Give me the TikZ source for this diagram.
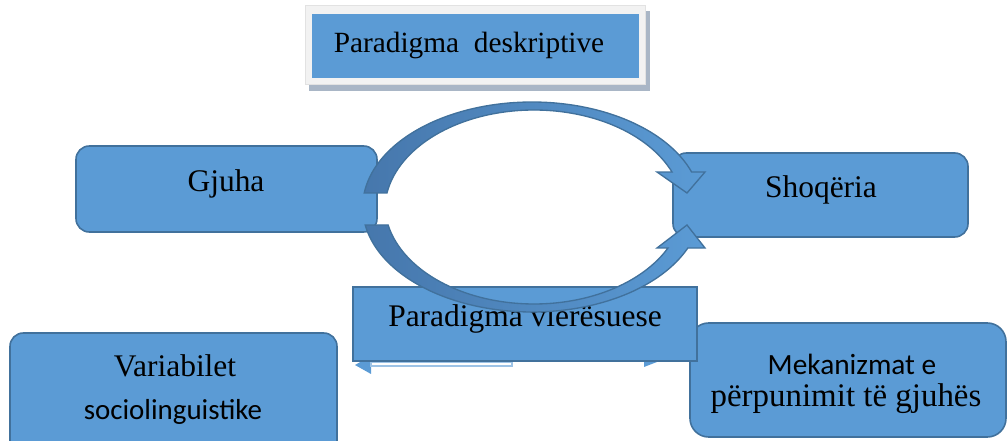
\documentclass[tikz,border=0pt]{standalone}
\usepackage{fontspec}
\setmainfont{Liberation Serif}
\newfontfamily\calibrifont{Carlito}
\definecolor{boxblue}{HTML}{5B9BD5}
\definecolor{boxline}{HTML}{41719C}
\definecolor{arcdark}{HTML}{4677AC}
\definecolor{framegray}{HTML}{F2F2F2}
\definecolor{frameline}{HTML}{E2E2E2}
\definecolor{shadowgray}{HTML}{A9B6C6}
\definecolor{thinblue}{HTML}{9DC3E6}
\tikzset{
  rbox/.style={draw=boxline, fill=boxblue, line width=1.2pt, rounded corners=10pt, inner sep=0pt},
  sbox/.style={draw=boxline, fill=boxblue, line width=1.6pt, inner sep=0pt},
  serifbig/.style={font=\fontsize{23.6}{28}\selectfont, anchor=base, inner sep=0pt},
  sansbig/.style={font=\calibrifont\fontsize{22}{26}\selectfont, anchor=base, inner sep=0pt},
  arcshape/.style={draw=boxline, line width=1pt, left color=arcdark, middle color=boxblue!85!arcdark, right color=boxblue}
}
\begin{document}
\begin{tikzpicture}[x=0.75pt,y=-0.75pt]
\clip (0,0) rectangle (1008,441);
\useasboundingbox (0,0) rectangle (1008,441);

% lower boxes
\node[rbox, minimum width=245.25pt, minimum height=102.75pt] (var) at (173.5,401.5) {};
\node[rbox, rounded corners=14pt, minimum width=237pt, minimum height=85.5pt] (mek) at (848,380) {};

% thin arrow partly hidden behind the rectangle
\fill[boxblue] (355,365) -- (371,356) -- (371,374) -- cycle;
\draw[thinblue, fill=white, line width=0.8pt] (371,362) rectangle (512,366);
\fill[boxblue] (644,356) -- (657,362) -- (644,367) -- cycle;

\node[sbox, minimum width=258pt, minimum height=55.5pt] (vle) at (525,324) {};

% upper boxes
\node[rbox, minimum width=225.75pt, minimum height=64.5pt] (gju) at (226.5,189) {};
\node[rbox, minimum width=221.25pt, minimum height=63pt] (sho) at (820.5,195) {};

% title frame
\fill[shadowgray] (309,83) rectangle (650,91);
\fill[shadowgray] (644,11) rectangle (650,91);
\node[draw=frameline, fill=framegray, line width=0.6pt, minimum width=255pt, minimum height=59.25pt, inner sep=0pt] (tframe) at (475,44.5) {};
\node[fill=boxblue, minimum width=245.25pt, minimum height=48pt, inner sep=0pt] (tbox) at (475.5,46) {};
\node[font=\fontsize{22}{26}\selectfont, anchor=base, inner sep=0pt] (ttext) at (469,53) {Paradigma\ \ deskriptive};

% texts
\node[serifbig] (tgju) at (226,192) {Gjuha};
\node[serifbig] (tsho) at (821,198) {Shoqëria};
\node[serifbig] (tvle) at (525,327) {Paradigma vlerësuese};
\node[serifbig] (tvar1) at (175,377) {Variabilet};
\node[sansbig, font=\calibrifont\fontsize{21.7}{26}\selectfont] (tvar2) at (173,420) {sociolinguistike};
\node[sansbig] (tmek1) at (852,375) {Mekanizmat e};
\node[serifbig, font=\fontsize{24.7}{29}\selectfont] (tmek2) at (846,407) {përpunimit të gjuhës};

% curved arrows
\draw[arcshape]
  plot[domain=172.3:19.5, samples=70, smooth] ({532+169.3*cos(\x)},{207-105*sin(\x)})
  -- (705,172) -- (687,193) -- (657,172)
  -- plot[domain=22.3:170.2, samples=70, smooth] ({534+149.2*cos(\x)},{210-100*sin(\x)})
  -- cycle;
\draw[arcshape]
  plot[domain=-170.1:-23, samples=70, smooth] ({532+169.3*cos(\x)},{207-105*sin(\x)})
  -- (705,248) -- (687,225) -- (657,248)
  -- plot[domain=-26.1:-167.9, samples=70, smooth] ({534+149.2*cos(\x)},{204-100*sin(\x)})
  -- cycle;
\end{tikzpicture}
\end{document}
